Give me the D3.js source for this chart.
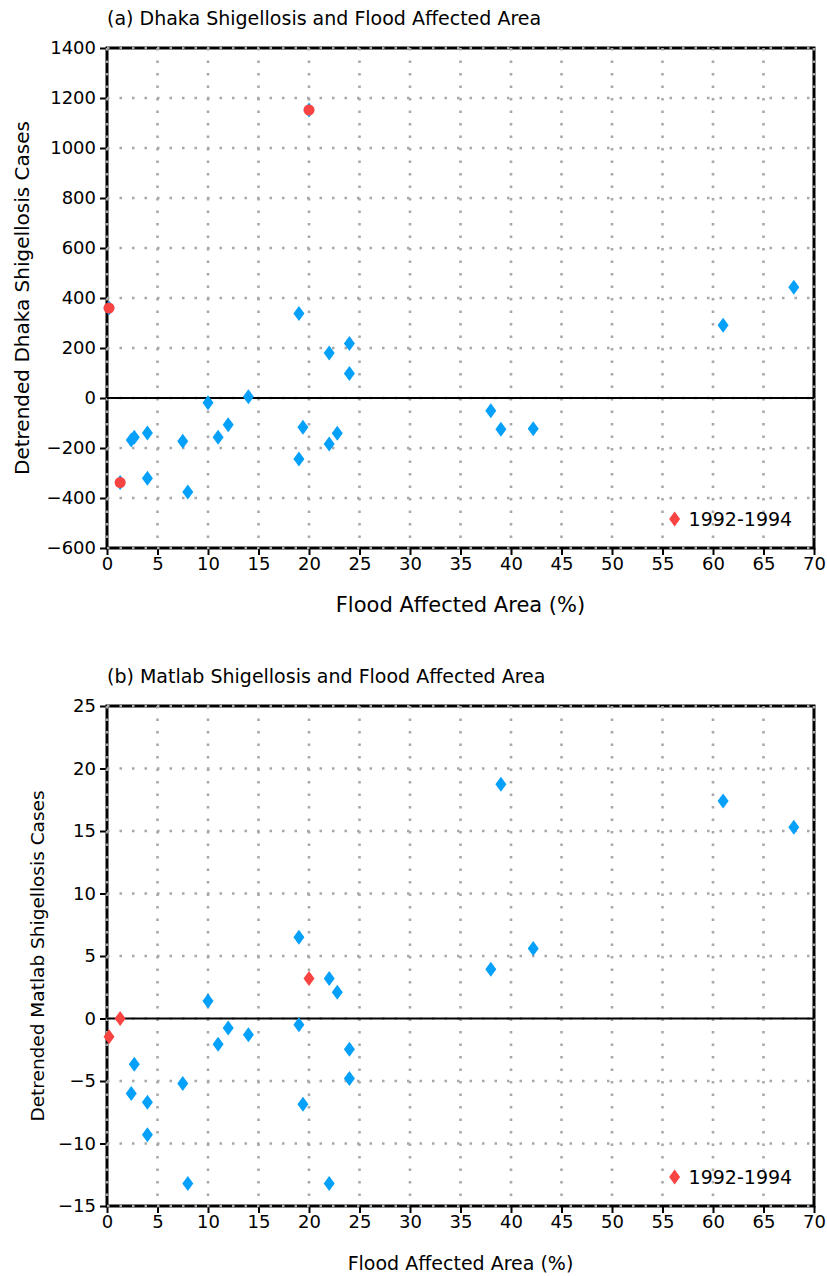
<!DOCTYPE html>
<html>
<head>
<meta charset="utf-8">
<script src="https://cdn.jsdelivr.net/npm/d3@7"></script>
<style>
  body { margin: 0; background: #fff; }
  svg text { font-family: "DejaVu Sans", sans-serif; fill: #000; }
</style>
</head>
<body>
<svg id="plot" width="827" height="1276"></svg>
<script>
// Flood affected area (%) for each year
var floodArea = [0.2, 1.3, 2.4, 2.7, 4, 4, 7.5, 8, 10, 11, 12, 14, 19, 19, 19.4, 20, 22, 22, 22.8, 24, 24, 38, 39, 42.2, 61, 68];
// Detrended Dhaka shigellosis cases
var dhakaCases = [360, -338, -168, -157, -140, -321, -173, -376, -19, -157, -107, 5, 338, -244, -117, 1152, 180, -184, -141, 218, 98, -51, -125, -123, 291, 443];
// Detrended Matlab shigellosis cases
var matlabCases = [-1.45, 0, -6, -3.65, -6.7, -9.3, -5.2, -13.2, 1.4, -2.05, -0.75, -1.3, 6.5, -0.5, -6.85, 3.2, 3.2, -13.2, 2.1, -2.45, -4.8, 3.95, 18.75, 5.6, 17.4, 15.3];
// 1992-1994 years flagged
var isHighlight = [true, true, false, false, false, false, false, false, false, false, false, false, false, false, false, true, false, false, false, false, false, false, false, false, false, false];

var xTicks = d3.range(0, 71, 5);
var dhakaTicks = d3.range(-600, 1401, 200);
var matlabTicks = d3.range(-15, 26, 5);
var legendLabel = '1992-1994';

var blue = '#05a0fa', red = '#f84343';
var svg = d3.select('#plot');

function drawPanel(opt) {
  var left = 107, right = 814, top = opt.top, bottom = opt.top + 500;
  var x = d3.scaleLinear().domain([0, 70]).range([left, right]);
  var y = d3.scaleLinear().domain(opt.domain).range([bottom, top]);
  var g = svg.append('g');

  // frame
  g.append('rect')
    .attr('x', left).attr('y', top)
    .attr('width', right - left).attr('height', bottom - top)
    .attr('fill', 'none').attr('stroke', '#000').attr('stroke-width', 3);

  // axes with ticks
  var xa = g.append('g').attr('transform', 'translate(0,' + bottom + ')')
    .call(d3.axisBottom(x).tickValues(xTicks).tickSize(7).tickPadding(2).tickFormat(d3.format('d')));
  var ya = g.append('g').attr('transform', 'translate(' + left + ',0)')
    .call(d3.axisLeft(y).tickValues(opt.ticks).tickSize(7).tickPadding(4).tickFormat(d3.format('d')));
  [xa, ya].forEach(function(a) {
    a.select('.domain').remove();
    a.selectAll('line').attr('stroke', '#000').attr('stroke-width', 2);
    a.selectAll('text').style('font-family', '"DejaVu Sans", sans-serif').style('font-size', '18px').attr('fill', '#000');
  });

  // dotted grid
  g.selectAll('.vgrid').data(xTicks).enter().append('line')
    .attr('x1', d => x(d)).attr('x2', d => x(d))
    .attr('y1', top).attr('y2', bottom)
    .attr('stroke', '#a8a8a8').attr('stroke-width', 2.6)
    .attr('stroke-dasharray', '2.5 10');
  g.selectAll('.hgrid').data(opt.ticks).enter().append('line')
    .attr('x1', left).attr('x2', right)
    .attr('y1', d => y(d)).attr('y2', d => y(d))
    .attr('stroke', '#a8a8a8').attr('stroke-width', 2.6)
    .attr('stroke-dasharray', '2.5 10');

  // zero line
  g.append('line')
    .attr('x1', left).attr('x2', right)
    .attr('y1', y(0)).attr('y2', y(0))
    .attr('stroke', '#000').attr('stroke-width', 2);

  var diamond = 'M0,-7.5L5.5,0L0,7.5L-5.5,0Z';
  var pts = floodArea.map((v, i) => ({x: v, y: opt.values[i], hi: isHighlight[i]}));

  g.selectAll('.pt').data(pts).enter().append('path')
    .attr('d', diamond)
    .attr('transform', d => 'translate(' + x(d.x) + ',' + y(d.y) + ')')
    .attr('fill', d => (d.hi && !opt.circles) ? red : blue);

  if (opt.circles) {
    g.selectAll('.hi').data(pts.filter(d => d.hi)).enter().append('circle')
      .attr('cx', d => x(d.x)).attr('cy', d => y(d.y))
      .attr('r', 5.5).attr('fill', red);
  }

  // legend
  g.append('path').attr('d', diamond)
    .attr('transform', 'translate(' + x(56.2) + ',' + (bottom - 29) + ')')
    .attr('fill', red);
  g.append('text')
    .attr('x', x(56.2) + 14).attr('y', bottom - 22)
    .style('font-size', '19px')
    .text(legendLabel);

  // title
  g.append('text')
    .attr('x', left).attr('y', top - 23)
    .style('font-size', '19px')
    .text(opt.title);

  // axis labels
  g.append('text')
    .attr('x', (left + right) / 2).attr('y', opt.xLabelY)
    .attr('text-anchor', 'middle')
    .style('font-size', opt.xLabelSize + 'px')
    .text('Flood Affected Area (%)');
  g.append('text')
    .attr('transform', 'translate(' + opt.yLabelX + ',' + (top + bottom) / 2 + ') rotate(-90)')
    .attr('text-anchor', 'middle')
    .style('font-size', opt.yLabelSize + 'px')
    .text(opt.yLabel);
}

drawPanel({
  top: 48, domain: [-600, 1400], ticks: dhakaTicks, values: dhakaCases, circles: true,
  title: '(a) Dhaka Shigellosis and Flood Affected Area',
  yLabel: 'Detrended Dhaka Shigellosis Cases',
  xLabelY: 612, yLabelX: 29, xLabelSize: 21, yLabelSize: 20
});

drawPanel({
  top: 706, domain: [-15, 25], ticks: matlabTicks, values: matlabCases, circles: false,
  title: '(b) Matlab Shigellosis and Flood Affected Area',
  yLabel: 'Detrended Matlab Shigellosis Cases',
  xLabelY: 1270, yLabelX: 44, xLabelSize: 19, yLabelSize: 18.5
});
</script>
</body>
</html>
